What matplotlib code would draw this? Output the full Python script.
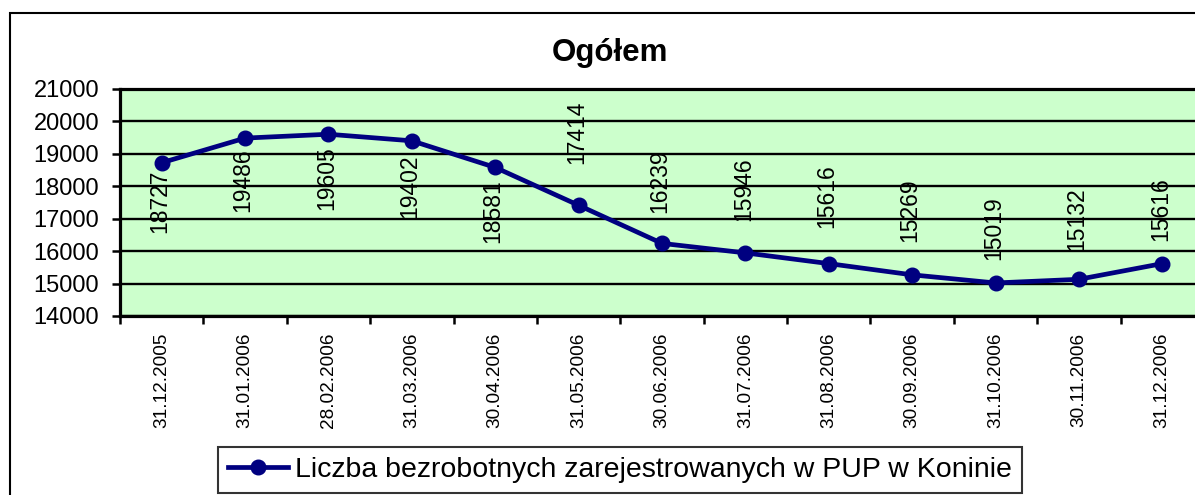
import matplotlib.pyplot as plt
from matplotlib.patches import Rectangle

# Dane: liczba bezrobotnych w PUP w Koninie
daty = ['31.12.2005', '31.01.2006', '28.02.2006', '31.03.2006', '30.04.2006',
        '31.05.2006', '30.06.2006', '31.07.2006', '31.08.2006', '30.09.2006',
        '31.10.2006', '30.11.2006', '31.12.2006']
bezrobotni = [18727, 19486, 19605, 19402, 18581, 17414, 16239,
              15946, 15616, 15269, 15019, 15132, 15616]
seria = 'Liczba bezrobotnych zarejestrowanych w PUP w Koninie'
tytul = 'Ogółem'
y_ticks = [14000, 15000, 16000, 17000, 18000, 19000, 20000, 21000]

# przesunięcia etykiet (piksele, + w górę)
etykiety_dy = [-39, -42, -44, -45, -44, 73, 62, 64, 67, 65, 55, 60, 54]

plt.rcParams['font.family'] = ['Liberation Sans', 'DejaVu Sans']

W, H = 1195, 495
fig = plt.figure(figsize=(W / 100, H / 100), dpi=100)

# ramka wykresu
fig.patches.append(Rectangle((10 / W, -0.2), 1.2, 1 - 13 / H + 0.2,
                             transform=fig.transFigure, fill=False,
                             edgecolor='black', linewidth=1.5))

ax = fig.add_axes([120 / W, 1 - 316 / H, 1084 / W, 227 / H])
ax.set_facecolor('#CCFFCC')

x = list(range(len(daty)))
ax.plot(x, bezrobotni, color='#000080', linewidth=3.4, marker='o',
        markersize=10.5, label=seria, zorder=3)

for xi, v, dy in zip(x, bezrobotni, etykiety_dy):
    ax.annotate(str(v), (xi, v), xytext=(-2, dy), textcoords='offset pixels',
                rotation=90, ha='center', va='center', fontsize=16.5, zorder=4)

ax.set_xlim(-0.5, len(daty) - 0.5)
ax.set_ylim(14000, 21000)
ax.set_yticks(y_ticks)
ax.set_yticklabels([str(t) for t in y_ticks])
ax.yaxis.grid(True, color='black', linewidth=1.7)
ax.set_axisbelow(True)

# ticki między kategoriami, etykiety pod kategoriami
ax.set_xticks([i - 0.5 for i in range(len(daty) + 1)])
ax.set_xticklabels([])
ax.set_xticks(x, minor=True)
ax.set_xticklabels(daty, minor=True, rotation=90, fontsize=13.7)
ax.tick_params(axis='x', which='major', direction='out', length=6, width=1.8)
ax.tick_params(axis='x', which='minor', length=0, pad=12)
ax.tick_params(axis='y', direction='out', length=6, width=1.8, pad=9,
               labelsize=17)

for s in ['left', 'bottom', 'top']:
    ax.spines[s].set_linewidth(2.3)
ax.spines['right'].set_visible(False)

fig.text(610 / W, 1 - 53 / H, tytul, ha='center', va='center',
         fontsize=22.5, fontweight='bold')

leg = fig.legend(loc='center', bbox_to_anchor=(620 / W, 1 - 470 / H),
                 fontsize=20.5, frameon=True, fancybox=False, handlelength=2.1,
                 borderpad=0.35, handletextpad=0.25, borderaxespad=0)
leg.get_frame().set_edgecolor('black')
leg.get_frame().set_linewidth(1.5)

fig.savefig('out.png', dpi=100)
